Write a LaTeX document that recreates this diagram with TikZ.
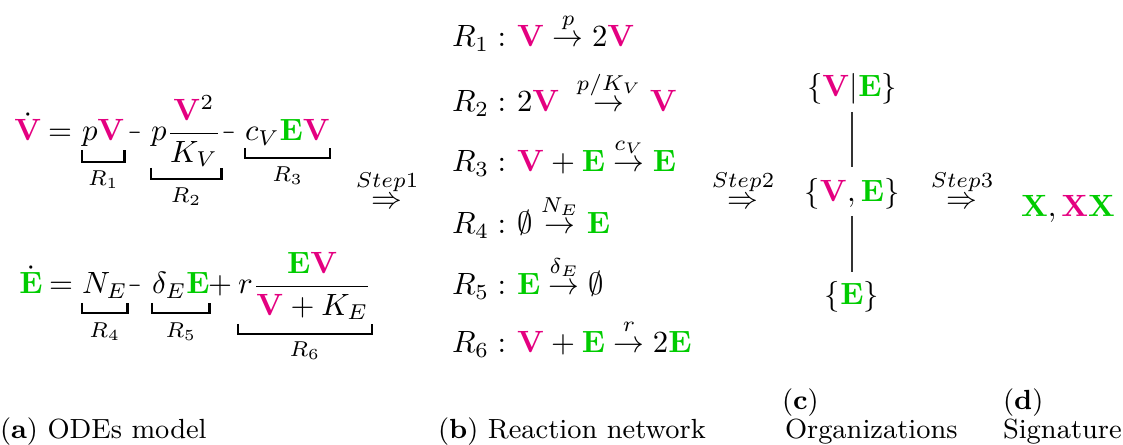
\documentclass[tikz,border=0pt]{standalone}
\usepackage{amsmath,amssymb,graphicx}
\definecolor{vcol}{RGB}{228,0,128}
\definecolor{ecol}{RGB}{0,204,0}
\newcommand{\Vb}{{\color{vcol}\mathbf{V}}}
\newcommand{\Eb}{{\color{ecol}\mathbf{E}}}
\newcommand{\Xg}{{\color{ecol}\mathbf{X}}}
\newcommand{\Xm}{{\color{vcol}\mathbf{X}}}
\newcommand{\rx}[1]{\mathrel{\mathop{\rightarrow}\limits^{\raisebox{1.2pt}{$\scriptstyle #1$}}}}
\newcommand{\stp}[1]{\mathrel{\mathop{\Rightarrow}\limits^{\raisebox{1.2pt}{$\scriptstyle #1$}}}}
\newcommand{\smin}{\scalebox{0.55}[1]{$-$}}
\begin{document}
\begin{tikzpicture}[x=0.325pt,y=-0.325pt,
  txt/.style={inner sep=0pt,outer sep=0pt,anchor=base},
  txtw/.style={inner sep=0pt,outer sep=0pt,anchor=base west},
  brk/.style={line width=0.85pt},
  lab/.style={inner sep=0pt,outer sep=0pt,anchor=center},
  orgline/.style={line width=0.4pt,draw=black!80},
  capt/.style={inner sep=0pt,outer sep=0pt,anchor=base west,font=\fontsize{9}{11}\selectfont}]
\useasboundingbox (0,0) rectangle (1123,445);

% ---------- (a) ODEs ----------
\node[txt]  (vd)  at (28,141)  {$\dot{\Vb}$};
\node[txt]  (eq1) at (60,141)  {$=$};
\node[txtw] (t1)  at (82,141)  {$p\Vb$};
\node[txt]  (mi1) at (135,141) {\smin};
\node[txtw] (t2)  at (151,141) {$p\dfrac{\Vb^2}{K_V}$};
\node[txt]  (mi2) at (229,141) {\smin};
\node[txtw] (t3)  at (245,141) {$c_V\Eb\Vb$};

\draw[brk] (t1.west |- 0,150) -- (t1.west |- 0,162) -- (t1.east |- 0,162) -- (t1.east |- 0,150);
\draw[brk] (t2.west |- 0,168) -- (t2.west |- 0,179) -- (t2.east |- 0,179) -- (t2.east |- 0,168);
\draw[brk] (t3.west |- 0,148) -- (t3.west |- 0,158) -- (t3.east |- 0,158) -- (t3.east |- 0,148);
\node[lab] (r1) at (t1.center |- 0,180) {$\scriptstyle R_1$};
\node[lab] (r2) at (t2.center |- 0,197) {$\scriptstyle R_2$};
\node[lab] (r3) at (t3.center |- 0,176) {$\scriptstyle R_3$};

\node[txt]  (ed)  at (31,294)  {$\dot{\Eb}$};
\node[txt]  (eq2) at (61,294)  {$=$};
\node[txtw] (t4)  at (82,294)  {$N_E$};
\node[txt]  (mi3) at (135,294) {\smin};
\node[txtw] (t5)  at (152,294) {$\delta_E\Eb$};
\node[txt]  (pl1) at (220,294) {$+$};
\node[txtw] (t6)  at (238,294) {$r\dfrac{\Eb\Vb}{\Vb+K_E}$};

\draw[brk] (t4.west |- 0,303) -- (t4.west |- 0,313) -- (t4.east |- 0,313) -- (t4.east |- 0,303);
\draw[brk] (t5.west |- 0,303) -- (t5.west |- 0,313) -- (t5.east |- 0,313) -- (t5.east |- 0,303);
\draw[brk] (t6.west |- 0,324) -- (t6.west |- 0,334) -- (t6.east |- 0,334) -- (t6.east |- 0,324);
\node[lab] (r4) at (t4.center |- 0,332) {$\scriptstyle R_4$};
\node[lab] (r5) at (t5.center |- 0,332) {$\scriptstyle R_5$};
\node[lab] (r6) at (t6.center |- 0,351) {$\scriptstyle R_6$};

% ---------- steps ----------
\node[txt] (s1) at (387,209) {$\stp{Step1}$};
\node[txt] (s2) at (743,209) {$\stp{Step2}$};
\node[txt] (s3) at (962,209) {$\stp{Step3}$};

% ---------- (b) reactions ----------
\node[txtw] (n1) at (452,47)  {$R_1:$};
\node[txtw] (n2) at (452,112) {$R_2:$};
\node[txtw] (n3) at (452,172) {$R_3:$};
\node[txtw] (n4) at (452,234) {$R_4:$};
\node[txtw] (n5) at (452,295) {$R_5:$};
\node[txtw] (n6) at (452,353) {$R_6:$};
\node[txtw] (x1) at (517,47)  {$\Vb \rx{p} 2\Vb$};
\node[txtw] (x2) at (517,112) {$2\Vb\;\rx{p/K_V}\Vb$};
\node[txtw] (x3) at (517,172) {$\Vb+\Eb \rx{c_V} \Eb$};
\node[txtw] (x4) at (517,234) {$\emptyset \rx{N_E} \Eb$};
\node[txtw] (x5) at (517,295) {$\Eb \rx{\delta_E} \emptyset$};
\node[txtw] (x6) at (517,353) {$\Vb+\Eb \rx{r} 2\Eb$};

% ---------- (c) organizations ----------
\node[txt] (o1) at (852,97)  {$\{\Vb|\Eb\}$};
\node[txt] (o2) at (852,202) {$\{\Vb,\Eb\}$};
\node[txt] (o3) at (852,305) {$\{\Eb\}$};
\draw[orgline,shorten <=2.3pt,shorten >=3.8pt] (o1.south) -- (o2.north);
\draw[orgline,shorten <=2pt,shorten >=3.3pt] (o2.south) -- (o3.north);

% ---------- (d) signature ----------
\node[txt] (sg) at (1068,217) {$\Xg,\Xm\Xg$};

% ---------- captions ----------
\node[capt] (ca) at (0,439)   {(\textbf{a}) ODEs model};
\node[capt] (cb) at (438,439) {(\textbf{b}) Reaction network};
\node[capt] (cc) at (782,410) {(\textbf{c})};
\node[capt] (cc2) at (785,439) {Organizations};
\node[capt] (cd) at (1003,410) {(\textbf{d})};
\node[capt] (cd2) at (1003,439) {Signature};
\end{tikzpicture}
\end{document}
